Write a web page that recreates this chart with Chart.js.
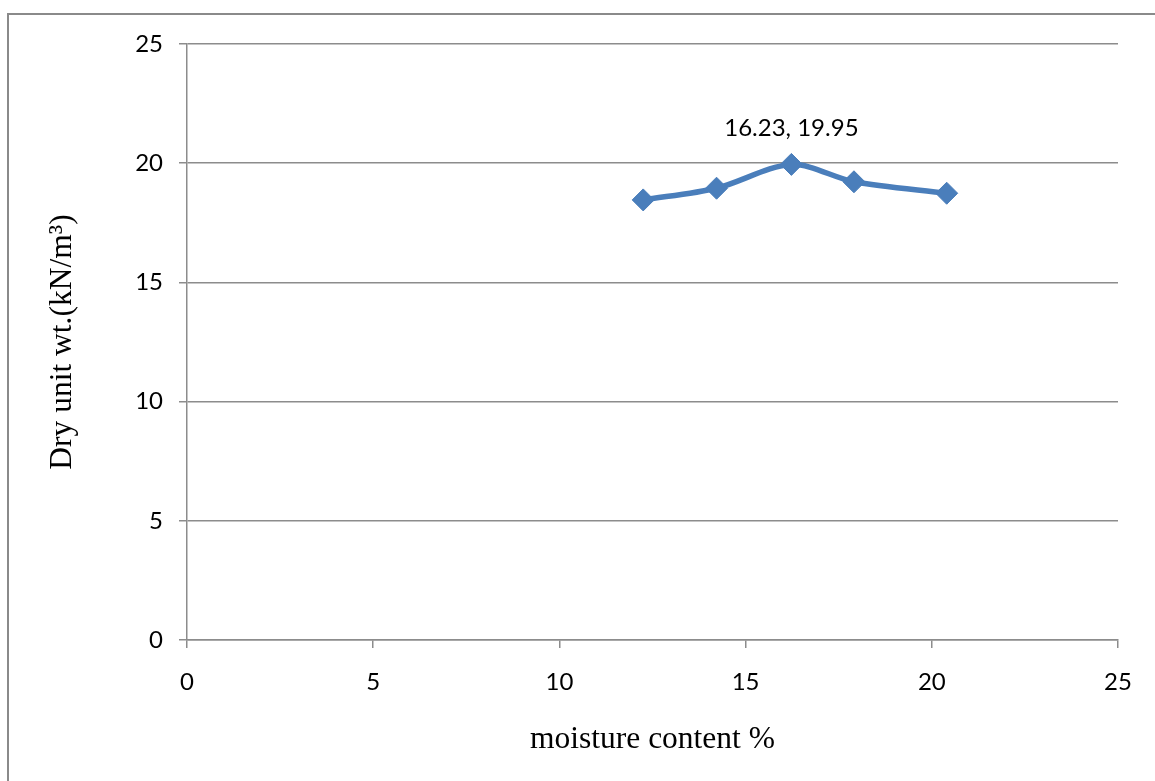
<!DOCTYPE html>
<html>
<head>
<meta charset="utf-8">
<title>Compaction curve</title>
<script src="https://cdn.jsdelivr.net/npm/chart.js@4/dist/chart.umd.min.js"></script>
<style>
  html, body { margin: 0; padding: 0; background: #ffffff; }
  #wrap { width: 1155px; height: 781px; position: relative; }
</style>
</head>
<body>
<div id="wrap"><canvas id="c" width="1155" height="781"></canvas></div>
<script>
// Proctor test results: moisture content (%) vs dry unit weight (kN/m³)
const moistureContent = [12.25, 14.22, 16.23, 17.91, 20.40];
const dryUnitWeight   = [18.46, 18.95, 19.95, 19.22, 18.74];
const xTicks = [0, 5, 10, 15, 20, 25];
const yTicks = [0, 5, 10, 15, 20, 25];
const peakLabel = '16.23, 19.95';
const peakIndex = 2;

const blue = '#4A7EBB';
const gridGray = '#8c8c8c';

// Frame around the whole chart object
const framePlugin = {
  id: 'frame',
  beforeDraw(chart) {
    const ctx = chart.ctx;
    ctx.save();
    ctx.fillStyle = '#ffffff';
    ctx.fillRect(0, 0, chart.width, chart.height);
    ctx.strokeStyle = '#8a8a8a';
    ctx.lineWidth = 2;
    ctx.beginPath();
    ctx.moveTo(8, chart.height + 2);
    ctx.lineTo(8, 14);
    ctx.lineTo(chart.width + 2, 14);
    ctx.stroke();
    ctx.restore();
  }
};

// Data label over the maximum point
const peakLabelPlugin = {
  id: 'peakLabel',
  afterDatasetsDraw(chart) {
    const pt = chart.getDatasetMeta(0).data[peakIndex];
    const ctx = chart.ctx;
    ctx.save();
    ctx.font = '24px Lato';
    ctx.fillStyle = '#000000';
    ctx.textAlign = 'center';
    ctx.textBaseline = 'middle';
    ctx.fillText(peakLabel, pt.x, pt.y - 36);
    ctx.restore();
  }
};

new Chart(document.getElementById('c'), {
  type: 'scatter',
  data: {
    datasets: [{
      data: moistureContent.map((x, i) => ({ x: x, y: dryUnitWeight[i] })),
      showLine: true,
      borderColor: blue,
      backgroundColor: blue,
      borderWidth: 5.5,
      tension: 0.3,
      pointStyle: 'rectRot',
      pointRadius: 11,
      pointHoverRadius: 11,
      pointBorderWidth: 1,
      pointBorderColor: blue,
      pointBackgroundColor: blue
    }]
  },
  options: {
    responsive: false,
    animation: false,
    events: [],
    layout: { padding: { top: 44, right: 37, left: 0, bottom: 0 } },
    plugins: {
      legend: { display: false },
      tooltip: { enabled: false }
    },
    scales: {
      x: {
        type: 'linear',
        min: 0, max: 25,
        afterBuildTicks(scale) { scale.ticks = xTicks.map(v => ({ value: v })); },
        afterFit(scale) { scale.height = 141; },
        grid: {
          drawOnChartArea: false,
          drawTicks: true,
          tickLength: 8,
          color: gridGray,
          lineWidth: 1.5
        },
        border: { display: true, color: gridGray, width: 1.5 },
        ticks: {
          font: { family: 'Lato', size: 24 },
          color: '#000000',
          padding: 20,
          maxRotation: 0
        },
        title: {
          display: true,
          text: 'moisture content %',
          font: { family: 'Liberation Serif', size: 31.5 },
          color: '#000000',
          padding: { top: 0, bottom: 22 }
        }
      },
      y: {
        type: 'linear',
        min: 0, max: 25,
        afterBuildTicks(scale) { scale.ticks = yTicks.map(v => ({ value: v })); },
        afterFit(scale) { scale.width = 187; },
        grid: {
          drawOnChartArea: true,
          drawTicks: true,
          tickLength: 8,
          color: gridGray,
          lineWidth: 1.5
        },
        border: { display: true, color: gridGray, width: 1.5 },
        ticks: {
          font: { family: 'Lato', size: 24 },
          color: '#000000',
          padding: 16
        },
        title: {
          display: true,
          text: 'Dry unit wt.(kN/m³)',
          font: { family: 'Liberation Serif', size: 31.5 },
          color: '#000000',
          padding: { top: 44, bottom: 0 }
        }
      }
    }
  },
  plugins: [framePlugin, peakLabelPlugin]
});
</script>
</body>
</html>
